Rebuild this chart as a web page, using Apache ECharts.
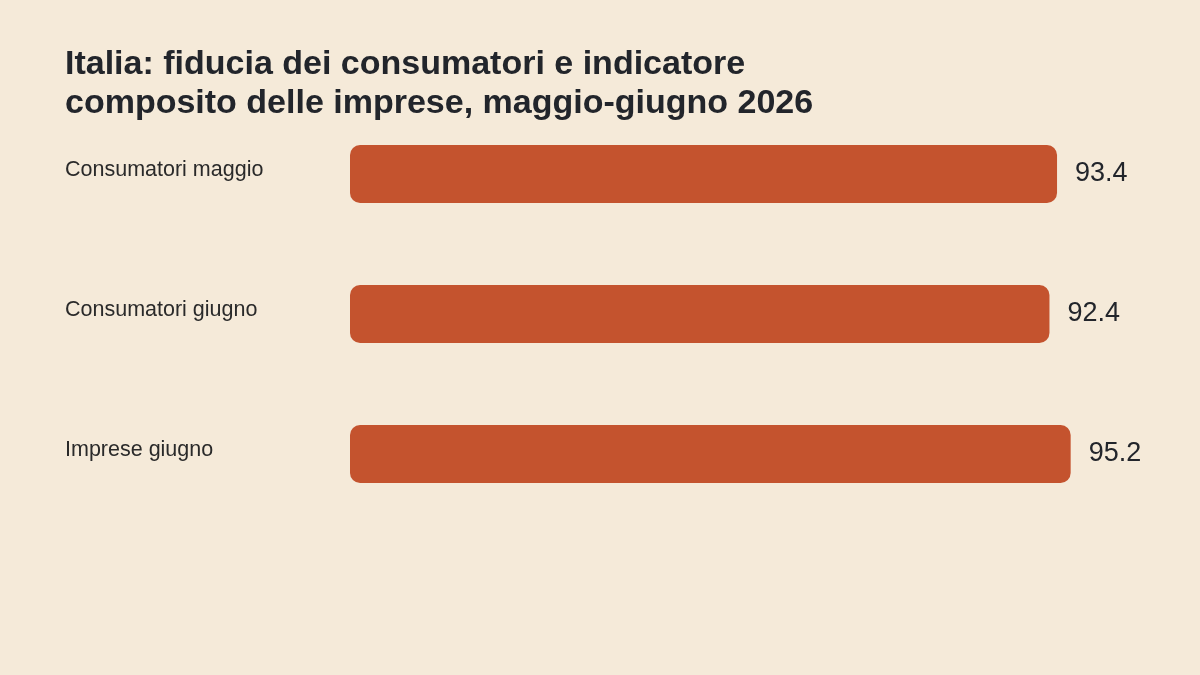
<!doctype html>
<html lang="it">
<head>
<meta charset="utf-8">
<script src="https://cdn.jsdelivr.net/npm/echarts@6/dist/echarts.min.js"></script>
<style>
  html, body { margin: 0; padding: 0; background: #f5ead9; }
  #main { width: 1200px; height: 675px; }
</style>
</head>
<body>
<div id="main"></div>
<script type="text/javascript">
    // dati
    var categorie = ['Consumatori maggio', 'Consumatori giugno', 'Imprese giugno'];
    var valori = [93.4, 92.4, 95.2];

    var myChart = echarts.init(document.getElementById('main'));
    myChart.setOption({
        backgroundColor: '#f5ead9',
        animation: false,
        textStyle: { fontFamily: '"Liberation Sans", Arial, sans-serif' },
        title: {
            text: 'Italia: fiducia dei consumatori e indicatore\ncomposito delle imprese, maggio-giugno 2026',
            left: 60,
            top: 40,
            textStyle: {
                fontSize: 34,
                fontWeight: 'bold',
                color: '#22252b',
                lineHeight: 39,
                fontFamily: '"Liberation Sans", Arial, sans-serif'
            }
        },
        grid: { left: 350, right: 93, top: 104, bottom: 151 },
        xAxis: {
            type: 'value',
            min: 0,
            max: 100,
            show: false
        },
        yAxis: {
            type: 'category',
            inverse: true,
            data: categorie,
            axisLine: { show: false },
            axisTick: { show: false },
            axisLabel: {
                align: 'left',
                margin: 285,
                formatter: function (v) { return '{a|' + v + '}'; },
                rich: {
                    a: {
                        fontSize: 21.5,
                        color: '#2a2a2a',
                        padding: [0, 0, 7, 0]
                    }
                }
            }
        },
        series: [{
            type: 'bar',
            data: valori,
            barWidth: 58,
            itemStyle: { color: '#c4532e', borderRadius: 10 },
            label: {
                show: true,
                position: 'right',
                distance: 18,
                fontSize: 27,
                color: '#22252b',
                formatter: function (p) { return p.value.toFixed(1); }
            }
        }]
    });
</script>
</body>
</html>
